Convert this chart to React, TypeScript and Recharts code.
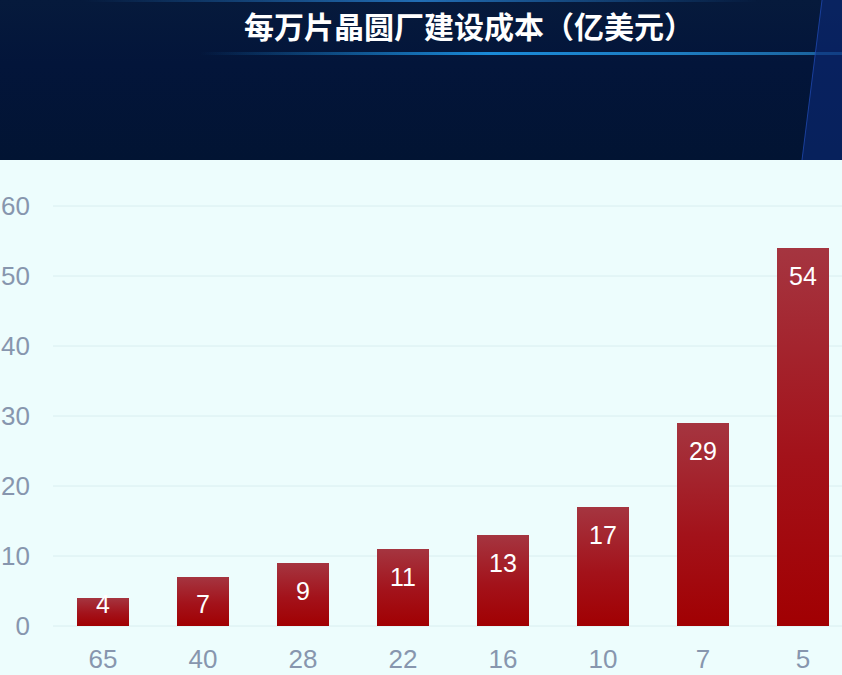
import { BarChart, Bar, XAxis, YAxis, CartesianGrid, LabelList } from "recharts";

const nodes = ["65", "40", "28", "22", "16", "10", "7", "5"];
const costs = [4, 7, 9, 11, 13, 17, 29, 54];
const yTicks = [0, 10, 20, 30, 40, 50, 60];
const title = "每万片晶圆厂建设成本（亿美元）";

const data = nodes.map((node, i) => ({ node, cost: costs[i] }));

const tickFont = { fill: "#8796ae", fontSize: 26, fontFamily: "'Liberation Sans', Arial, sans-serif" };

const BarValue = (props: any) => {
    const { x, y, width, height, value } = props;
    const offset = Math.min(28, height - 22);
    return (
        <text
            x={x + width / 2}
            y={y + offset}
            textAnchor="middle"
            dominantBaseline="central"
            fill="#ffffff"
            fontSize={25}
            fontFamily="'Liberation Sans', Arial, sans-serif"
        >
            {value}
        </text>
    );
};

const App = () => {
    return (
        <div style={{ position: "absolute", left: 0, top: 0, width: 842, height: 675, overflow: "hidden", background: "#edfdfd" }}>
            <div style={{ position: "absolute", left: 0, top: 0, width: 842, height: 160, background: "linear-gradient(180deg, #061a3c 0%, #03153a 40%, #021433 100%)" }}>
                <div style={{ position: "absolute", left: 0, top: 0, width: 842, height: 2, background: "linear-gradient(90deg, rgba(30,110,190,0) 10%, rgba(40,130,210,0.8) 50%, rgba(30,110,190,0) 90%)" }} />
                <div style={{ position: "absolute", left: 244, top: 10, fontSize: 30, lineHeight: 1, fontWeight: 700, color: "#ffffff", whiteSpace: "nowrap", fontFamily: "'Noto Sans CJK SC', sans-serif" }}>
                    {title}
                </div>
                <div style={{ position: "absolute", left: 200, top: 52, width: 642, height: 3, background: "linear-gradient(90deg, rgba(30,120,200,0) 0%, #1a8ad8 45%, #1e7cc0 75%, #1a5f98 100%)" }} />
                <svg width={842} height={160} style={{ position: "absolute", left: 0, top: 0 }}>
                    <polygon points="822,0 842,0 842,160 802,160" fill="#0b2a78" opacity={0.6} />
                    <polyline points="822,0 802,160" stroke="#1f48b0" strokeWidth={1} fill="none" opacity={0.8} />
                </svg>
            </div>
            <div style={{ position: "absolute", left: 0, top: 160 }}>
                <BarChart width={860} height={515} data={data} margin={{ top: 46, right: 7, bottom: 0, left: 0 }}>
                    <defs>
                        <linearGradient id="barFill" x1="0" y1="0" x2="0" y2="1">
                            <stop offset="0%" stopColor="#a53540" />
                            <stop offset="55%" stopColor="#a3121a" />
                            <stop offset="100%" stopColor="#a10002" />
                        </linearGradient>
                    </defs>
                    <CartesianGrid vertical={false} stroke="#d9eef0" />
                    <XAxis
                        dataKey="node"
                        height={49}
                        axisLine={false}
                        tickLine={false}
                        tickSize={0}
                        tickMargin={24}
                        tick={tickFont}
                        interval={0}
                    />
                    <YAxis
                        width={53}
                        domain={[0, 60]}
                        ticks={yTicks}
                        axisLine={false}
                        tickLine={false}
                        tickSize={0}
                        tickMargin={23}
                        tick={tickFont}
                    />
                    <Bar dataKey="cost" barSize={52} fill="url(#barFill)" isAnimationActive={false}>
                        <LabelList dataKey="cost" content={BarValue} />
                    </Bar>
                </BarChart>
            </div>
        </div>
    );
};

export default App;
